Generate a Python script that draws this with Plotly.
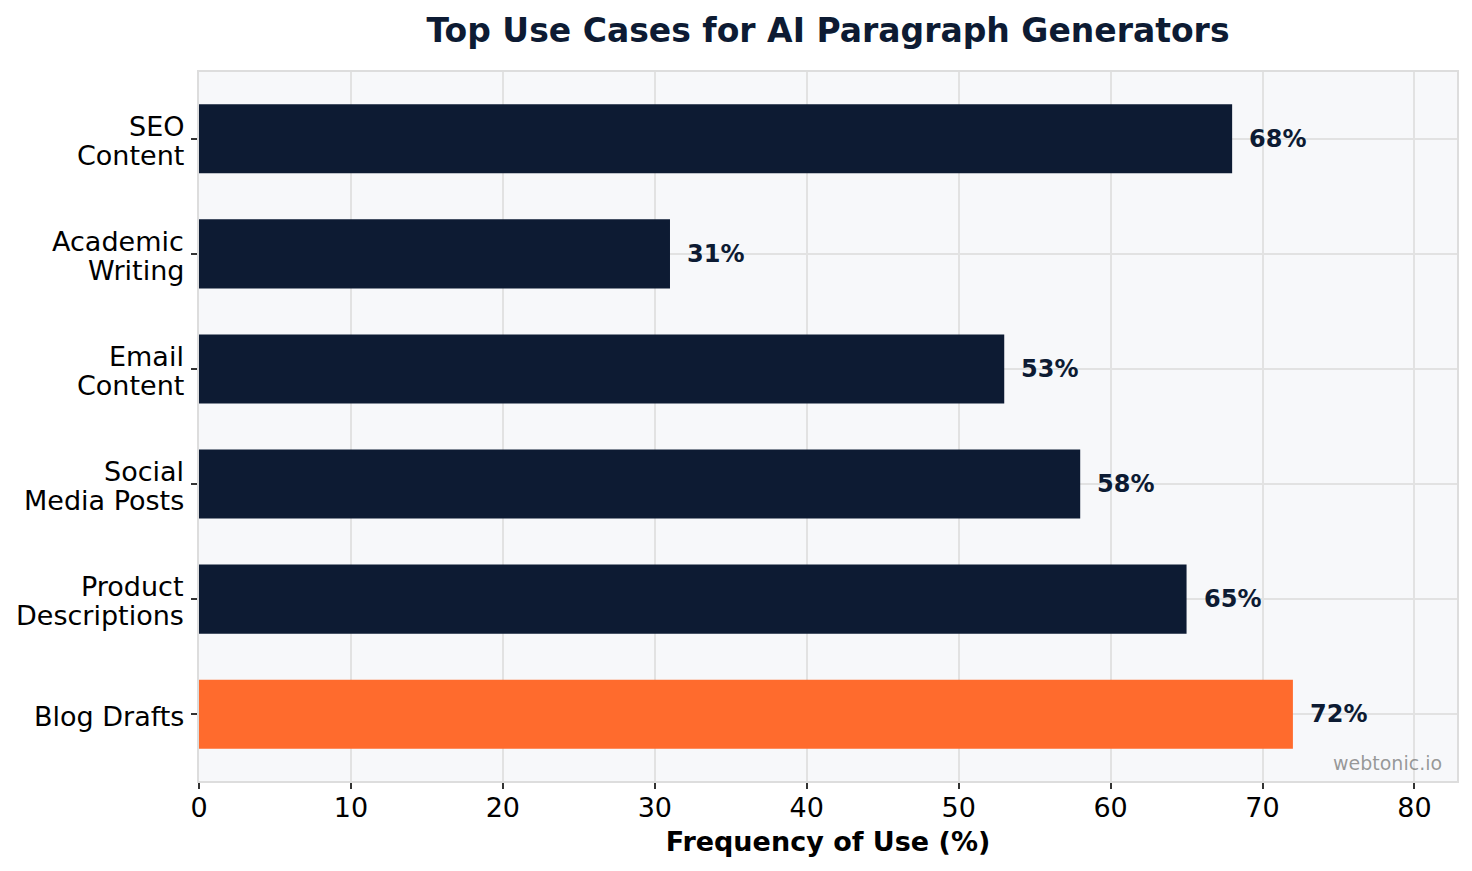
import plotly.graph_objects as go

categories = ["Blog Drafts", "Product<br>Descriptions", "Social<br>Media Posts",
              "Email<br>Content", "Academic<br>Writing", "SEO<br>Content"]
values = [72, 65, 58, 53, 31, 68]
label_texts = [f"{v}%" for v in values]
highlight = "Blog Drafts"

NAVY = "#0d1b33"
ORANGE = "#ff6b2d"
colors = [ORANGE if c == highlight else NAVY for c in categories]
positions = list(range(len(categories)))

fig = go.Figure()
fig.add_trace(go.Bar(
    x=values, y=positions, orientation="h", width=0.6,
    marker=dict(color=colors, line=dict(width=0)),
    hoverinfo="skip",
))

for p, v, t in zip(positions, values, label_texts):
    fig.add_annotation(x=v + 1, y=p, text=f"<b>{t}</b>", showarrow=False,
                       xanchor="left", yanchor="middle",
                       font=dict(family="DejaVu Sans", size=24, color=NAVY))

# category labels (one text per line for tighter, matplotlib-like line spacing)
LINE_GAP = 29
for p, c in zip(positions, categories):
    lines = c.split("<br>")
    n = len(lines)
    for i, ln in enumerate(lines):
        fig.add_annotation(xref="paper", x=0, y=p, text=ln, showarrow=False,
                           xanchor="right", yanchor="middle",
                           xshift=-13, yshift=((n - 1) / 2 - i) * LINE_GAP - 2,
                           font=dict(family="DejaVu Sans", size=27, color="black"))

fig.add_annotation(xref="paper", yref="paper", x=0.99, y=0.0254,
                   text="webtonic.io", showarrow=False,
                   xanchor="right", yanchor="middle",
                   font=dict(family="DejaVu Sans", size=19, color="rgba(120,120,120,0.75)"))

fig.update_layout(
    width=1472, height=871,
    margin=dict(l=199, r=15, t=72, b=90),
    paper_bgcolor="white",
    plot_bgcolor="#f7f8fa",
    showlegend=False,
    title=dict(text="<b>Top Use Cases for AI Paragraph Generators</b>",
               x=(199 + 1457) / 2 / 1472, xanchor="center",
               y=1 - 30 / 871, yanchor="middle",
               font=dict(family="DejaVu Sans", size=33, color=NAVY)),
    font=dict(family="DejaVu Sans", color="black"),
)

fig.update_xaxes(
    range=[0, 82.8], dtick=10, tick0=0,
    showgrid=True, gridcolor="#e2e2e2", gridwidth=1.5,
    zeroline=False,
    showline=True, linecolor="#dddddd", linewidth=2, mirror=True,
    ticks="outside", ticklen=6, tickwidth=2, tickcolor="#333333",
    ticklabelstandoff=-4,
    tickfont=dict(family="DejaVu Sans", size=27, color="black"),
    title=dict(text="<b>Frequency of Use (%)</b>", standoff=10,
               font=dict(family="DejaVu Sans", size=27, color="black")),
)

fig.update_yaxes(
    range=[-0.58, 5.58],
    tickmode="array", tickvals=positions, showticklabels=False,
    showgrid=True, gridcolor="#e2e2e2", gridwidth=1.5,
    zeroline=False,
    showline=True, linecolor="#dddddd", linewidth=2, mirror=True,
    ticks="outside", ticklen=6, tickwidth=1.5, tickcolor="#333333",
)

fig.write_html("out.html")
